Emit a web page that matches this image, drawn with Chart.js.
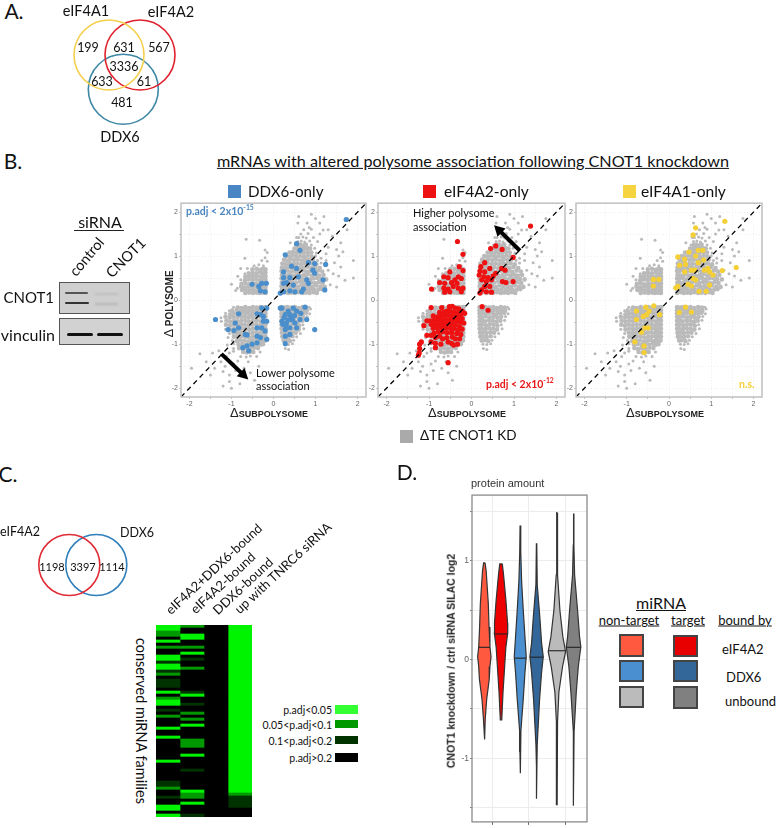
<!DOCTYPE html>
<html>
<head>
<meta charset="utf-8">
<script src="https://cdn.jsdelivr.net/npm/chart.js@4"></script>
<style>
  html, body { margin: 0; padding: 0; background: #fff; }
  #page { position: relative; width: 778px; height: 828px; overflow: hidden; font-family: Lato, sans-serif; color: #111; }
  #page canvas { position: absolute; }
  .t { position: absolute; white-space: nowrap; line-height: 1; }
  .b { position: absolute; }
  sup { font-size: 65%; line-height: 0; }
</style>
</head>
<body>
<div id="page"></div>
<script>
// --- values ---
const grayUR = [
 [.19,.16],[.27,.18],[.35,.16],[.43,.17],[.51,.16],[.6,.18],[.69,.16],[.77,.17],[.86,.16],[.95,.18],[1.03,.16],
 [.2,.24],[.27,.23],[.35,.25],[.44,.23],[.53,.25],[.61,.23],[.7,.24],[.8,.23],[.88,.25],[.97,.23],[1.07,.24],[1.15,.25],
 [.19,.32],[.25,.31],[.31,.33],[.4,.31],[.49,.32],[.58,.3],[.66,.33],[.75,.31],[.84,.32],[.93,.3],[1.02,.33],[1.12,.31],[1.22,.3],
 [.2,.4],[.27,.39],[.36,.41],[.45,.39],[.54,.4],[.63,.42],[.72,.39],[.81,.41],[.9,.4],[.99,.38],[1.08,.41],[1.17,.39],
 [.19,.49],[.24,.48],[.33,.5],[.42,.47],[.51,.49],[.6,.5],[.69,.48],[.78,.5],[.87,.47],[.96,.49],[1.05,.5],[1.14,.48],[1.25,.47],
 [.2,.57],[.28,.56],[.37,.58],[.46,.56],[.55,.58],[.64,.55],[.73,.57],[.82,.59],[.91,.56],[1,.58],[1.09,.56],[1.19,.57],
 [.19,.66],[.24,.65],[.33,.67],[.42,.65],[.51,.66],[.6,.64],[.69,.67],[.78,.65],[.87,.66],[.96,.64],[1.06,.67],[1.16,.65],
 [.2,.74],[.27,.73],[.36,.75],[.45,.73],[.54,.75],[.63,.72],[.72,.74],[.81,.76],[.9,.73],[.99,.75],[1.1,.73],
 [.21,.83],[.29,.81],[.38,.84],[.47,.82],[.56,.83],[.65,.81],[.74,.84],[.83,.82],[.92,.83],[1.02,.81],
 [.25,.92],[.31,.9],[.4,.93],[.49,.91],[.58,.92],[.67,.9],[.76,.93],[.85,.91],[.94,.92],
 [.3,1],[.37,.99],[.46,1.01],[.55,.99],[.64,1],[.73,.98],[.82,1.01],[.91,.99],
 [.38,1.08],[.46,1.09],[.55,1.07],[.63,1.09],[.72,1.07],[.81,1.09],[.9,1.08],
 [.5,1.17],[.57,1.16],[.64,1.18],[.72,1.16],[.8,1.18],[.87,1.17],
 [.58,1.25],[.64,1.26],[.7,1.24],[.77,1.26]
];
const grayUL = [
 [-.19,.16],[-.26,.17],[-.33,.16],[-.4,.17],[-.49,.16],[-.58,.17],[-.67,.16],[-.19,.23],[-.25,.22],[-.32,.24],[-.39,.22],[-.48,.23],[-.57,.22],[-.66,.24],[-.75,.23],
 [-.19,.3],[-.25,.31],[-.32,.29],[-.41,.31],[-.5,.3],[-.59,.31],[-.68,.29],[-.77,.31],[-.19,.38],[-.25,.37],[-.31,.39],[-.4,.37],[-.49,.38],[-.58,.36],[-.67,.39],[-.76,.37],
 [-.19,.46],[-.25,.47],[-.32,.45],[-.41,.47],[-.5,.46],[-.59,.47],[-.68,.45],[-.19,.54],[-.25,.55],[-.31,.53],[-.4,.55],[-.49,.54],[-.58,.55],[-.67,.53],
 [-.19,.62],[-.25,.61],[-.32,.63],[-.41,.61],[-.5,.62],[-.59,.61],[-.19,.7],[-.25,.71],[-.31,.69],[-.4,.71],[-.5,.7]
];
const grayLL = [
 [-.19,-.16],[-.25,-.17],[-.31,-.16],[-.4,-.17],[-.49,-.16],[-.58,-.18],[-.67,-.16],[-.76,-.18],[-.85,-.17],
 [-.19,-.23],[-.25,-.24],[-.32,-.22],[-.41,-.24],[-.5,-.23],[-.59,-.25],[-.68,-.23],[-.77,-.24],[-.87,-.22],[-.98,-.24],
 [-.19,-.3],[-.25,-.29],[-.31,-.31],[-.4,-.29],[-.49,-.3],[-.58,-.32],[-.67,-.3],[-.76,-.29],[-.85,-.31],[-.94,-.3],[-1.03,-.32],
 [-.19,-.38],[-.25,-.39],[-.32,-.37],[-.41,-.39],[-.5,-.38],[-.59,-.4],[-.68,-.38],[-.77,-.37],[-.86,-.39],[-.95,-.38],[-1.04,-.4],[-1.14,-.38],
 [-.19,-.47],[-.25,-.46],[-.31,-.48],[-.4,-.46],[-.49,-.47],[-.58,-.49],[-.67,-.47],[-.76,-.46],[-.85,-.48],[-.94,-.47],[-1.03,-.49],[-1.12,-.47],
 [-.19,-.56],[-.25,-.55],[-.32,-.57],[-.41,-.55],[-.5,-.56],[-.59,-.58],[-.68,-.56],[-.77,-.55],[-.86,-.57],[-.95,-.56],[-1.04,-.58],[-1.13,-.56],
 [-.19,-.65],[-.25,-.64],[-.31,-.66],[-.4,-.64],[-.49,-.65],[-.58,-.67],[-.67,-.65],[-.76,-.64],[-.85,-.66],[-.94,-.65],[-1.03,-.67],
 [-.19,-.74],[-.25,-.73],[-.32,-.75],[-.41,-.73],[-.5,-.74],[-.59,-.76],[-.68,-.74],[-.77,-.73],[-.86,-.75],[-.95,-.74],
 [-.19,-.83],[-.25,-.82],[-.31,-.84],[-.4,-.82],[-.49,-.83],[-.58,-.85],[-.67,-.83],[-.76,-.82],[-.85,-.84],[-.94,-.83],
 [-.2,-.92],[-.27,-.91],[-.33,-.93],[-.42,-.91],[-.51,-.92],[-.6,-.94],[-.69,-.92],[-.78,-.91],[-.87,-.93],
 [-.25,-1],[-.31,-1.01],[-.38,-.99],[-.47,-1.01],[-.56,-1],[-.65,-1.02],[-.74,-1],[-.83,-1.01],
 [-.37,-1.09],[-.46,-1.08],[-.55,-1.1],[-.64,-1.09],[-.73,-1.11],[-.82,-1.09],[-.48,-1.18],[-.56,-1.17],[-.63,-1.19],[-.72,-1.18]
];
const grayLR = [
 [.19,-.16],[.26,-.17],[.33,-.16],[.42,-.17],[.51,-.16],[.6,-.18],[.69,-.16],[.78,-.17],[.19,-.23],[.25,-.24],[.34,-.22],[.43,-.24],[.52,-.23],[.61,-.25],[.7,-.23],[.79,-.24],
 [.19,-.3],[.25,-.29],[.32,-.31],[.41,-.29],[.5,-.3],[.59,-.32],[.68,-.3],[.77,-.29],[.19,-.38],[.25,-.39],[.34,-.37],[.43,-.39],[.52,-.38],[.61,-.4],[.7,-.38],
 [.19,-.47],[.25,-.46],[.32,-.48],[.41,-.46],[.5,-.47],[.59,-.49],[.68,-.47],[.19,-.56],[.25,-.55],[.34,-.57],[.43,-.55],[.52,-.56],[.61,-.58],
 [.19,-.65],[.24,-.64],[.33,-.66],[.42,-.64],[.51,-.65],[.6,-.67],[.2,-.74],[.26,-.73],[.35,-.75],[.44,-.73],[.53,-.74],
 [.21,-.83],[.27,-.82],[.36,-.84],[.45,-.82],[.24,-.92],[.3,-.91],[.39,-.93]
];
const graySparse = [
 [1.3,.68],[1.13,.84],[1.05,.9],[1,1],[1.02,1.07],[.98,1.18],[1.13,.95],[1.25,.9],[.9,1.25],[.4,1.3],[.52,1.25],[.58,1.33],[.66,1.34],[.74,1.32],[.86,1.34],[1.05,1.33],
 [.6,1.42],[.7,1.43],[.78,1.41],[.95,1.42],[.65,1.5],[.82,1.51],[1.1,1.5],[.72,1.6],[.9,1.61],[1.18,1.59],
 [1.55,1],[1.45,.85],[1.6,.75],[1.9,.9],[1.55,.55],[1.9,.5],[1.35,.35],[1.5,.3],[1.3,1.2],[1.25,1.05],[1.4,1.45],
 [1.1,1.75],[1.3,1.6],[1.2,1.9],[.9,1.95],[.6,1.9],[.8,1.75],[1,1.85],[1.75,1.6],[1.75,1.85],[1.6,1.3],[1.65,1.1],
 [.58,1.75],[.85,1.65],[1.42,.6],[1.5,1.15],[1.7,.45],[.55,1.42],
 [-.9,.22],[-.86,.27],[-1,.36],[-.78,.46],[-.85,.54],[-.68,.6],[-.62,.72],[-.24,.78],[-.35,.8],[-.46,.78],[-.15,.88],[-.2,.96],[-.28,.9],[-.15,1.08],[-.2,1.14],[-.65,1.38],[-.33,1.36],[-.68,.95],[-.78,.72],
 [-.95,-.16],[-1.05,-.24],[-1.14,-.3],[-1.25,-.4],[-1.24,-.48],[-1.14,-.66],[-1.05,-.76],[-1.08,-.85],[-.98,-.92],[-.95,-.99],[-1.1,-1.02],[-.95,-1.1],[-.95,-1.16],[-1.05,-1.2],[-.32,-1.18],[-.4,-1.28],[-.55,-1.27],[-.65,-1.29],[-.78,-1.28],[-1.12,-1.28],
 [-1.95,-1.55],[-1.75,-1.22],[-1.6,-1.4],[-1.45,-1.2],[-1.4,-1.55],[-1.3,-1.15],[-1.25,-1.4],[-1.2,-1.62],[-1.2,-1.95],[-1.05,-1.7],[-1,-2],[-.95,-1.45],
 [-.9,-1.6],[-.8,-1.9],[-.7,-1.55],[-.55,-1.65],[-.45,-1.82],[-1.05,-1.85],[-1.5,-1.7],[-.35,-1.5],[-.6,-1.4],[-1.15,-1.5],[-.85,-1.38],
 [.85,-.16],[.88,-.2],[.86,-.31],[.8,-.37],[.78,-.46],[.7,-.56],[.72,-.65],[.64,-.76],[.55,-.83],[.48,-.91],[.27,-1],[.36,-1.01],[.45,-.99],[.28,-1.1],[.36,-1.12]
];
const ddx6Only = [
 [1.73,1.83],[.55,1.28],[.63,1.13],[.28,1.03],[.43,.77],[.24,.64],[.55,.72],[.83,.85],[.98,.83],[1.24,.81],[.24,.51],[.39,.51],[.59,.53],[.24,.38],[.31,.4],[.47,.34],[.79,.46],[.98,.61],[1.18,.46],
 [.24,.19],[.39,.21],[.67,.19],[.83,.38],[1.22,.23],[-.28,.38],[-.51,.36],[-.35,.31],[-.17,.38],[-.2,.19],[-.31,.21],[.16,.16],[.51,.19],[.71,.25],[.94,.68],
 [-1.38,-.44],[-.83,-.31],[-.28,-.18],[-.16,-.18],[-.39,-.31],[-.24,-.37],[-.16,-.48],[-.91,-.52],[-.83,-.63],[-1.08,-.67],[-.94,-.69],[-.67,-.78],[-.63,-.79],[-.39,-.63],[-.28,-.63],[-.2,-.7],
 [-.39,-.82],[-.31,-.85],[-.16,-.89],[-.63,-1.04],[-.73,-1.08],[-.51,-1],[-.59,-1.15],[-.39,-.97],[-.24,-.48],[-.31,-.33],
 [.2,-.18],[.47,-.18],[.75,-.16],[.28,-.33],[.39,-.33],[.55,-.25],[.79,-.44],[.63,-.44],[.2,-.48],[.31,-.52],[.43,-.4],[.51,-.52],[.28,-.67],[.39,-.63],[.55,-.63],[.98,-.67],[.28,-.82],[.39,-.78],[.28,-.99],[.16,-.18],[.22,-.55],
 [.35,-.25],[.45,-.45],[.35,-.45],[.25,-.4],[.65,-.3],[.5,-.35],[.3,-.6]
];
const eif4a2Only = [
 [1.39,1.68],[-.33,1.33],[-.2,1.04],[.57,1.23],[.45,1.17],[.72,1.15],[.98,.97],[.31,.85],[-.29,.76],[-.2,.67],[-.51,.64],[.22,.76],[.2,.66],[.31,.64],[.43,.72],[.71,.72],[.79,.68],[.57,.61],
 [.18,.57],[.29,.53],[.39,.51],[.51,.55],[.73,.42],[.81,.4],[.98,.42],[.24,.46],[.35,.42],[.47,.46],[.31,.31],[.24,.23],[.43,.31],[.2,.16],[.35,.19],[.47,.18],
 [-.94,.25],[-.65,.53],[-.55,.51],[-.31,.53],[-.75,.4],[-.63,.38],[-.47,.4],[-.39,.46],[-.24,.49],[-.65,.27],[-.55,.25],[-.43,.31],[-.31,.27],[-.2,.27],[-.51,.19],[-.63,.18],[-.24,.19],[-.34,.38],
 [.25,-.15],[.39,-.23],
 [-.95,-.17],[-.7,-.17],[-.52,-.15],[-.45,-.14],[-.38,-.18],[-.3,-.2],[-.22,-.25],[-.16,-.3],[-.75,-.28],[-.65,-.27],[-.58,-.25],[-.5,-.25],[-.42,-.27],[-.34,-.3],[-.26,-.33],
 [-.9,-.36],[-.8,-.38],[-.72,-.36],[-.63,-.35],[-.55,-.34],[-.47,-.36],[-.39,-.38],[-.31,-.4],[-.22,-.42],[-1.05,-.47],[-.97,-.47],[-.88,-.46],[-.78,-.46],[-.7,-.45],[-.6,-.44],[-.52,-.45],[-.44,-.46],[-.36,-.48],[-.27,-.5],[-.18,-.52],
 [-1.12,-.58],[-.95,-.55],[-.85,-.55],[-.75,-.54],[-.65,-.53],[-.56,-.54],[-.47,-.55],[-.38,-.57],[-.28,-.6],[-.9,-.64],[-.8,-.63],[-.7,-.62],[-.6,-.63],[-.5,-.64],[-.42,-.65],[-.32,-.68],[-.22,-.66],
 [-1.05,-.8],[-.95,-.8],[-.88,-.75],[-.78,-.72],[-.68,-.72],[-.58,-.74],[-.47,-.74],[-.35,-.76],[-.25,-.78],[-.85,-.85],[-.75,-.82],[-.68,-.88],[-.58,-.85],[-.45,-.84],[-.38,-.88],[-.28,-.88],
 [-1.22,-1],[-1.18,-.95],[-.95,-.95],[-.85,-.98],[-.72,-1],[-.55,-.95],[-.47,-.98],[-.42,-1.02],[-.33,-1],[-1.22,-1.1],[-1.25,-1.25],[-1.23,-1.2],[-.55,-1.42],[-.85,-1.08]
];
const eif4a1Only = [
 [1.32,1.79],[.63,1.64],[.57,1.48],[1.59,.74],[1.26,.67],[.21,.98],[.47,1.09],[.69,1.13],[.8,1.13],[.63,1],[.37,.93],[.82,.91],[.69,.85],[.25,.79],[.39,.81],[.92,.72],[.96,.64],[.53,.68],[.61,.68],[.37,.64],[.84,.68],[1.04,.57],
 [.57,.49],[.63,.46],[.45,.36],[.53,.32],[.21,.31],[.16,.28],[.71,.2],[.88,.2],[.96,.34],[-.37,.47],[-.24,.47],[-.37,.32],
 [-.36,-.13],[-.55,-.16],[-.77,-.25],[-.47,-.25],[-.22,-.33],[-.61,-.37],[-.77,-.44],[-.53,-.33],[-.57,-.63],[-.49,-.63],[-.65,-.73],[-.81,-.95],[-.59,-1.04],[-.59,-1.19],
 [.39,-.16],[.24,-.28],[.53,-.27]
];
const scatterTicks = [-2,-1.5,-1,-.5,0,.5,1,1.5,2];

const heatColumns = ['eIF4A2+DDX6-bound','eIF4A2-bound','DDX6-bound','up with TNRC6 siRNA'];
const heatBoth = [3,3,2,2,0,3,0,2,0,0,3,3,1,3,3,1,2,0,1,1,1,0,3,0,2,3,3,0,1,0,2,0,0,0,3,0,0,3,0,0,0,0,0,0,0,3,0,0,0,0,0,0,1,1,2,0,0,1,0,0,3,3,0,3];
const heatA2 =   [2,0,0,3,3,0,0,2,0,3,0,1,0,0,2,0,0,0,0,0,0,0,1,3,0,0,1,0,0,2,0,2,0,3,0,0,0,0,2,2,2,0,0,3,0,0,0,0,1,0,0,0,0,0,0,3,2,2,0,3,0,0,0,1];
const heatD6 =   [0,0,0,0,0,0,0,0,0,0,0,0,0,0,0,0,0,0,0,0,0,0,0,0,0,0,0,0,0,0,0,0,0,0,0,0,0,0,0,0,0,0,0,0,0,0,0,0,0,0,0,0,0,0,0,0,0,0,0,0,0,0,0,0];
const heatUp =   [3,3,3,3,3,3,3,3,3,3,3,3,3,3,3,3,3,3,3,3,3,3,3,3,3,3,3,3,3,3,3,3,3,3,3,3,3,3,3,3,3,3,3,3,3,3,3,3,3,3,3,3,3,3,3,3,2,1,1,1,1,0,0,0];

const violinCenters = [.77,1.23,1.76,2.21,2.77,3.23];
const violinMedians = [.125,.26,.015,.025,.09,.125];
const violinY = [
 [.98,.9,.565,.33,.13,.03,-.07,-.2,-.4,-.6,-.81],
 [.97,.86,.6,.37,.27,.13,-.07,-.33,-.61],
 [1.36,1.09,.8,.5,.23,.03,-.13,-.4,-.72,-.93,-1.15],
 [1.18,.76,.43,.17,.03,-.13,-.4,-.86,-1.09,-1.41],
 [1.49,.86,.5,.23,.08,-.07,-.33,-.63,-1.16,-1.47],
 [1.48,1.16,.86,.5,.23,.13,-.07,-.33,-.73,-.93,-1.48]
];
const violinWidth = [
 [.02,.05,.11,.13,.155,.185,.155,.135,.065,.025,.008],
 [.035,.07,.135,.18,.185,.135,.1,.055,.02],
 [.005,.014,.037,.083,.13,.165,.13,.083,.018,.009,.005],
 [.005,.018,.09,.138,.184,.138,.083,.018,.009,.005],
 [.005,.018,.083,.165,.24,.156,.055,.018,.009,.005],
 [.005,.009,.028,.11,.165,.2,.13,.074,.014,.009,.005]
];

const vennASets = ['eIF4A1','eIF4A2','DDX6'];
const vennCSets = ['eIF4A2','DDX6'];

// --- helpers ---
const page = document.getElementById('page');
Chart.defaults.animation = false;
Chart.defaults.events = [];
Chart.defaults.plugins.legend.display = false;
Chart.defaults.plugins.tooltip.enabled = false;

function addCanvas(left, top, w, h) {
    const c = document.createElement('canvas');
    c.width = w; c.height = h;
    c.style.left = left + 'px'; c.style.top = top + 'px';
    c.style.width = w + 'px'; c.style.height = h + 'px';
    page.appendChild(c);
    return c;
}

// align: 'c' centre, 'l' left, 'r' right
function put(html, x, y, size, opts = {}) {
    const el = document.createElement('div');
    el.className = 't';
    el.innerHTML = html;
    el.style.left = x + 'px'; el.style.top = y + 'px';
    el.style.fontSize = size + 'px';
    const tx = { c: '-50%', l: '0', r: '-100%' }[opts.align || 'c'];
    el.style.transform = `translate(${tx},-50%)` + (opts.rotate ? ` rotate(${opts.rotate}deg)` : '');
    if (opts.color) el.style.color = opts.color;
    if (opts.font) el.style.fontFamily = opts.font;
    if (opts.bold) el.style.fontWeight = 'bold';
    if (opts.under) el.style.textDecoration = 'underline';
    page.appendChild(el);
    return el;
}

function box(x, y, w, h, css) {
    const el = document.createElement('div');
    el.className = 'b';
    el.style.cssText = `left:${x}px;top:${y}px;width:${w}px;height:${h}px;${css}`;
    page.appendChild(el);
    return el;
}

const frame = (color, width) => ({
    id: 'frame',
    afterDraw(chart) {
        const a = chart.chartArea, ctx = chart.ctx;
        ctx.save();
        ctx.strokeStyle = color; ctx.lineWidth = width;
        ctx.strokeRect(a.left, a.top, a.right - a.left, a.bottom - a.top);
        ctx.restore();
    }
});

const arrowPlugin = (arrow) => ({
    id: 'arrow',
    afterDatasetsDraw(chart) {
        if (!arrow) return;
        const sx = chart.scales.x, sy = chart.scales.y, ctx = chart.ctx;
        const x0 = sx.getPixelForValue(arrow[0][0]), y0 = sy.getPixelForValue(arrow[0][1]);
        const x1 = sx.getPixelForValue(arrow[1][0]), y1 = sy.getPixelForValue(arrow[1][1]);
        const ang = Math.atan2(y1 - y0, x1 - x0);
        ctx.save();
        ctx.strokeStyle = '#000'; ctx.fillStyle = '#000'; ctx.lineWidth = 4;
        ctx.beginPath();
        ctx.moveTo(x0, y0);
        ctx.lineTo(x1 - 9 * Math.cos(ang), y1 - 9 * Math.sin(ang));
        ctx.stroke();
        ctx.beginPath();
        ctx.moveTo(x1, y1);
        ctx.lineTo(x1 - 12 * Math.cos(ang - .5), y1 - 12 * Math.sin(ang - .5));
        ctx.lineTo(x1 - 12 * Math.cos(ang + .5), y1 - 12 * Math.sin(ang + .5));
        ctx.fill();
        ctx.restore();
    }
});

// --- scatter panels (B) ---
function drawPanel(left, right, points, color, arrow) {
    const top = 201, bottom = 397, axisW = 22, axisH = 16, pad = 3;
    const c = addCanvas(left - axisW, top - pad, right - left + axisW + pad, bottom - top + axisH + pad);
    const gray = [...grayUR, ...grayUL, ...grayLL, ...grayLR];
    const axis = {
        type: 'linear', min: -2.2, max: 2.2,
        afterBuildTicks: s => { s.ticks = scatterTicks.map(v => ({ value: v })); },
        ticks: { color: '#666', font: { size: 7, family: 'Liberation Sans' }, maxRotation: 0, autoSkip: false,
                 padding: 1, callback: v => Number.isInteger(v) ? v : '' },
        grid: { color: '#e6e6e6', lineWidth: .7, tickLength: 2, tickColor: '#aaa' },
        border: { display: false, dash: [1, 2] }
    };
    new Chart(c, {
        type: 'scatter',
        data: { datasets: [
            { data: [{ x: -2.2, y: -2.2 }, { x: 2.2, y: 2.2 }], showLine: true, borderColor: '#000', borderWidth: 1.3, borderDash: [5, 4], pointRadius: 0 },
            { data: points.map(p => ({ x: p[0], y: p[1] })), pointRadius: 2.6, pointBackgroundColor: color, pointBorderWidth: 0 },
            { data: gray.map(p => ({ x: p[0], y: p[1] })), pointRadius: 2.3, pointBackgroundColor: '#bababa', pointBorderWidth: 0 },
            { data: graySparse.map(p => ({ x: p[0], y: p[1] })), pointRadius: 1.5, pointBackgroundColor: '#bababa', pointBorderWidth: 0 }
        ] },
        options: {
            responsive: false,
            layout: { padding: { top: pad, right: pad, left: 0, bottom: 0 } },
            scales: {
                x: { ...axis, afterFit: s => { s.height = axisH; } },
                y: { ...axis, afterFit: s => { s.width = axisW; } }
            }
        },
        plugins: [frame('#c4c4c4', 1.6), arrowPlugin(arrow)]
    });
}
drawPanel(181, 367, ddx6Only, '#4a8fcb', [[-1.24, -1.22], [-.6, -1.8]]);
drawPanel(378, 566, eif4a2Only, '#ee1111', [[1.14, 1.12], [.53, 1.7]]);
drawPanel(576, 763, eif4a1Only, '#f4cf35', null);

// --- venn circles ---
function drawVenn(left, top, w, h, xs, ys, rs, colors) {
    const c = addCanvas(left, top, w, h);
    new Chart(c, {
        type: 'scatter',
        data: { datasets: xs.map((x, i) => ({
            data: [{ x: x, y: ys[i] }],
            pointRadius: rs[i],
            pointBackgroundColor: 'rgba(0,0,0,0)',
            pointBorderColor: colors[i],
            pointBorderWidth: 1.6,
            clip: false
        })) },
        options: {
            responsive: false,
            layout: { autoPadding: false },
            scales: {
                x: { display: false, min: 0, max: w },
                y: { display: false, min: 0, max: h, reverse: true }
            }
        }
    });
}
drawVenn(60, 10, 120, 120, [49, 80, 63.3], [45, 45, 79.3], [35, 35, 35], ['#f5cf4c', '#e0202c', '#3e88a5']);
drawVenn(30, 525, 110, 80, [39.3, 66.3], [40, 40], [30.5, 30.5], ['#e02b35', '#2e7fbb']);

// --- heatmap (C) ---
const heatPalette = ['#000000', '#003300', '#009900', '#00f400'];
const heatRows = heatBoth.map((v, i) => i + 1);
new Chart(addCanvas(156, 625, 96, 192), {
    type: 'bar',
    data: {
        labels: heatRows,
        datasets: [heatBoth, heatA2, heatD6, heatUp].map((col, i) => ({
            label: heatColumns[i],
            data: col.map(() => 1),
            backgroundColor: col.map(v => heatPalette[v]),
            borderWidth: 0,
            barPercentage: 1, categoryPercentage: 1
        }))
    },
    options: {
        indexAxis: 'y',
        responsive: false,
        scales: {
            x: { display: false, stacked: true, min: 0, max: 4 },
            y: { display: false, stacked: true }
        }
    }
});

// --- violins (D) ---
const violinFill = ['#ff5a40', '#ee0000', '#4a90d0', '#336699', '#bbbbbb', '#808080'];
const violinSets = [];
violinCenters.forEach((cx, i) => {
    const ys = violinY[i], ws = violinWidth[i];
    const shape = ys.map((y, k) => ({ x: cx + ws[k], y: y }));
    for (let k = ys.length - 1; k >= 0; k--) shape.push({ x: cx - ws[k], y: ys[k] });
    shape.push(shape[0]);
    // width at the median, from the outline
    const m = violinMedians[i];
    let hw = ws[0];
    for (let k = 0; k < ys.length - 1; k++) {
        if (ys[k] >= m && m >= ys[k + 1]) hw = ws[k] + (ws[k + 1] - ws[k]) * (ys[k] - m) / (ys[k] - ys[k + 1]);
    }
    violinSets.push({ data: [{ x: cx - hw, y: m }, { x: cx + hw, y: m }], showLine: true, borderColor: '#222', borderWidth: 1.1, pointRadius: 0, order: 0 });
    violinSets.push({ data: shape, showLine: true, fill: 'shape', backgroundColor: violinFill[i], borderColor: '#333', borderWidth: 1.2, pointRadius: 0, tension: 0, order: 1 });
});
new Chart(addCanvas(442, 489, 148, 339), {
    type: 'scatter',
    data: { datasets: violinSets },
    options: {
        responsive: false,
        layout: { padding: { top: 3, right: 3, left: 0, bottom: 0 } },
        scales: {
            x: {
                type: 'linear', min: .43, max: 3.6,
                afterBuildTicks: s => { s.ticks = [1, 2, 3].map(v => ({ value: v })); },
                afterFit: s => { s.height = 3; },
                ticks: { display: false },
                grid: { color: '#ececec', tickLength: 3, tickColor: '#666' },
                border: { display: false }
            },
            y: {
                type: 'linear', min: -1.644, max: 1.667,
                afterBuildTicks: s => { s.ticks = [-1.5, -1, -.5, 0, .5, 1, 1.5].map(v => ({ value: v })); },
                afterFit: s => { s.width = 30; },
                ticks: { color: '#666', font: { size: 8.5, family: 'Liberation Sans' }, padding: 1, autoSkip: false,
                         callback: v => Number.isInteger(v) ? v : '' },
                grid: { color: '#ececec', tickLength: 2, tickColor: '#888' },
                border: { display: false }
            }
        }
    },
    plugins: [frame('#8a8a8a', 1.3)]
});

// --- text and legends ---
put('A.', 14, 10, 21);
put(vennASets[0], 86, 11, 14.5);
put(vennASets[1], 171, 12, 14.5);
put(vennASets[2], 120, 137, 14.5);
put('199', 88, 48, 12.5); put('631', 124, 48, 12.5); put('567', 159, 48, 12.5);
put('3336', 124, 67, 12.5); put('633', 102, 82, 12.5); put('61', 144, 82, 12.5); put('481', 122, 103, 12.5);

put('B.', 13, 160, 21);
put('mRNAs with altered polysome association following CNOT1 knockdown', 473, 161, 16.2, { under: true });
box(228, 185, 13, 13, 'background:#4a86c4');
put('DDX6-only', 248, 192, 15.2, { align: 'l' });
box(423, 185, 13, 13, 'background:#ee1111');
put('eIF4A2-only', 444, 192, 15.6, { align: 'l' });
box(623, 185, 13, 13, 'background:#f6d440');
put('eIF4A1-only', 641, 192, 15.6, { align: 'l' });

put('p.adj &lt; 2x10<sup>-15</sup>', 186, 211, 10.5, { align: 'l', bold: true, color: '#4a86c0' });
put('p.adj &lt; 2x10<sup>-12</sup>', 486, 384, 10.5, { align: 'l', bold: true, color: '#e81818' });
put('n.s.', 739, 384, 10.5, { align: 'l', bold: true, color: '#f4cf35' });
put('Lower polysome', 256, 372, 11, { align: 'l' });
put('association', 256, 385, 11, { align: 'l' });
put('Higher polysome', 413, 212, 11, { align: 'l' });
put('association', 413, 226, 11, { align: 'l' });

const axisFont = 'Liberation Sans';
[269, 467, 665].forEach(x => put('<span style="font-size:13px;font-weight:normal">Δ</span>SUBPOLYSOME', x, 412, 9, { bold: true, font: axisFont, color: '#222' }));
put('<span style="font-size:13px;font-weight:normal">Δ</span> POLYSOME', 168, 304, 10, { bold: true, font: axisFont, color: '#222', rotate: -90 });

box(400, 430, 13, 13, 'background:#aaaaaa');
put('ΔTE CNOT1 KD', 420, 436, 13.5, { align: 'l' });

// western blot
put('siRNA', 100, 222, 16);
box(74, 230, 50, 1, 'background:#222');
put('control', 87, 257, 14.5, { rotate: -50 });
put('CNOT1', 126, 258, 14.5, { rotate: -45 });
put('CNOT1', 54, 297, 15, { align: 'r' });
put('vinculin', 55, 335, 16, { align: 'r' });
box(59, 282, 69, 30, 'background:#cfcfcf;border:1px solid #555;box-sizing:content-box');
box(59, 318, 69, 25, 'background:#d2d2d2;border:1px solid #555;box-sizing:content-box');
box(65, 292, 23, 2, 'background:#555;filter:blur(.7px);border-radius:2px');
box(65, 302, 24, 2, 'background:#333;filter:blur(.7px);border-radius:2px');
box(95, 293, 23, 2, 'background:#bdbdbd;filter:blur(1px)');
box(95, 303, 23, 2, 'background:#b5b5b5;filter:blur(1px)');
box(67, 333, 26, 3, 'background:#111;filter:blur(.7px);border-radius:2px');
box(97, 333, 26, 3, 'background:#111;filter:blur(.7px);border-radius:2px');

put('C.', 8, 473, 21);
put(vennCSets[0], 0, 532, 12.5, { align: 'l' });
put(vennCSets[1], 137, 533, 12.5);
put('1198', 52, 566, 11); put('3397', 83, 566, 11); put('1114', 112, 566, 11);

const heatLabelPos = [[213.5, 569], [222.5, 582.5], [242.5, 585.5], [282.5, 567.5]];
heatColumns.forEach((s, i) => put(s, heatLabelPos[i][0], heatLabelPos[i][1], 13, { rotate: -43 }));
put('conserved miRNA families', 141, 721, 14.5, { rotate: 90 });

put('p.adj&lt;0.05', 332, 710, 10.5, { align: 'r' });
put('0.05&lt;p.adj&lt;0.1', 332, 725, 10.5, { align: 'r' });
put('0.1&lt;p.adj&lt;0.2', 332, 741, 10.5, { align: 'r' });
put('p.adj&gt;0.2', 332, 758, 10.5, { align: 'r' });
box(335, 705, 23, 9, 'background:#33ff33');
box(335, 720, 23, 8, 'background:#009900');
box(335, 736, 23, 8, 'background:#003300');
box(335, 753, 23, 9, 'background:#000');

put('D.', 407, 471, 21);
put('protein amount', 471, 483, 11, { align: 'l', font: axisFont, color: '#333' });
put('CNOT1 knockdown / ctrl siRNA SILAC log2', 451, 661, 10.5, { bold: true, font: axisFont, color: '#222', rotate: -90 });

put('miRNA', 661, 603, 16, { under: true });
put('non-target', 629, 620, 13, { under: true });
put('target', 688, 620, 13, { under: true });
put('bound by', 745, 620, 13, { under: true });
const swatch = 'box-sizing:border-box;border:2px solid #444;background:';
box(619, 634, 25, 23, swatch + '#ff5a40');
box(673, 635, 25, 22, swatch + '#e80000');
box(619, 660, 25, 22, swatch + '#4a90d0');
box(673, 660, 25, 22, swatch + '#336699');
box(619, 686, 25, 22, swatch + '#bbbbbb');
box(673, 686, 25, 23, swatch + '#808080');
put('eIF4A2', 722, 649, 13, { align: 'l' });
put('DDX6', 726, 677, 13, { align: 'l' });
put('unbound', 725, 701, 13, { align: 'l' });
</script>
</body>
</html>
